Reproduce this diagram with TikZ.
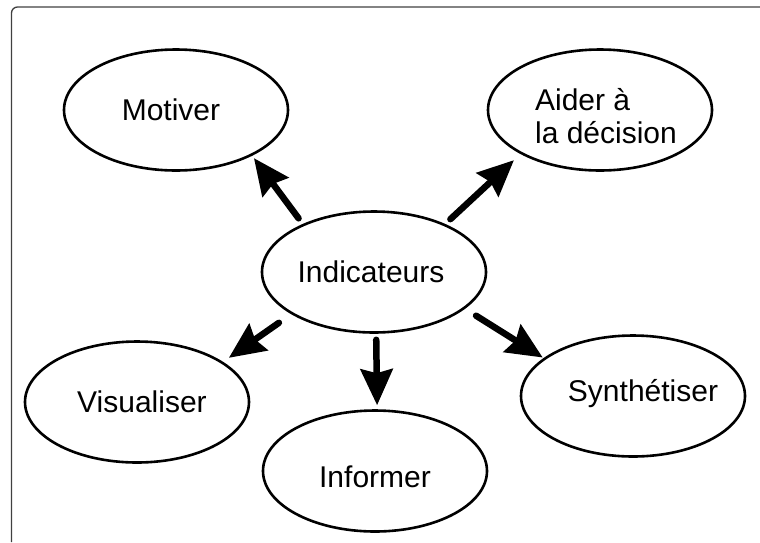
\documentclass[tikz,border=0pt]{standalone}
\usepackage{fontspec}
\setmainfont{Liberation Sans}
\usetikzlibrary{shapes.geometric,arrows.meta}
\begin{document}
\begin{tikzpicture}[x=1pt,y=-1pt,
  bubble/.style={ellipse,draw,line width=2.6pt,minimum width=224pt,minimum height=121pt,inner sep=0pt},
  txt/.style={font=\fontsize{30}{33}\selectfont,inner sep=0pt,align=left},
  arr/.style={line width=6.5pt,line cap=round,-{Stealth[length=36pt,width=32pt,inset=4pt]}},
  frameline/.style={line width=1.3pt,black!75}]
\useasboundingbox (0,0) rectangle (760,542);
\draw[frameline,rounded corners=6pt] (11.5,542) -- (11.5,7) -- (760,7);
\node[bubble,label={[txt,xshift=-5pt]center:Motiver}] (mot) at (176,110) {};
\node[bubble,label={[txt,xshift=6pt,yshift=-6pt]center:{Aider à\\la décision}}] (aid) at (600,110) {};
\node[bubble,label={[txt,xshift=-3pt]center:Indicateurs}] (ind) at (374,272) {};
\node[bubble,label={[txt,xshift=5pt]center:Visualiser}] (vis) at (137,402) {};
\node[bubble,label={[txt,xshift=10pt,yshift=2pt]center:Synthétiser}] (syn) at (633,396) {};
\node[bubble,label={[txt,yshift=-6pt]center:Informer}] (inf) at (375,471) {};
\draw[arr,shorten <=7pt,shorten >=3pt] (ind.146) -- (mot.-31);
\draw[arr,shorten <=7pt,shorten >=9pt] (ind.34) -- (aid.209);
\draw[arr,shorten <=15pt,shorten >=7pt] (ind.207) -- (vis.25);
\draw[arr,shorten <=6pt,shorten >=4pt] (ind.-88) -- (inf.88);
\draw[arr,shorten <=13pt,shorten >=1pt] (ind.-22) -- (syn.157);
\end{tikzpicture}
\end{document}
